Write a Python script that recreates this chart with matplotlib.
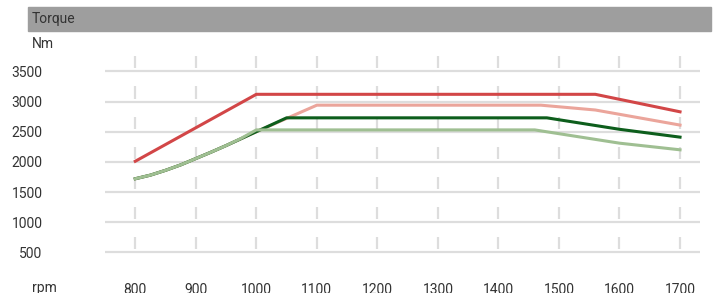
import matplotlib.pyplot as plt
from matplotlib.patches import Rectangle

# torque curves (rpm -> Nm)
rpm_red = [800, 1000, 1560, 1700]
nm_red = [2010, 3120, 3120, 2830]

rpm_lred = [800, 825, 850, 875, 900, 925, 950, 975, 1000, 1100, 1470, 1560, 1700]
nm_lred = [1720, 1780, 1860, 1950, 2055, 2160, 2270, 2385, 2500, 2940, 2940, 2860, 2610]

rpm_dgreen = [800, 825, 850, 875, 900, 925, 950, 975, 1000, 1050, 1480, 1600, 1700]
nm_dgreen = [1720, 1780, 1860, 1950, 2055, 2160, 2270, 2385, 2500, 2730, 2730, 2540, 2410]

rpm_lgreen = [800, 825, 850, 875, 900, 925, 950, 975, 1000, 1460, 1600, 1700]
nm_lgreen = [1720, 1780, 1860, 1950, 2055, 2160, 2270, 2390, 2530, 2530, 2310, 2200]

xticks = [800, 900, 1000, 1100, 1200, 1300, 1400, 1500, 1600, 1700]
yticks = [500, 1000, 1500, 2000, 2500, 3000, 3500]

plt.rcParams['font.family'] = ['Roboto', 'DejaVu Sans']
txt = '#333333'
grid = '#dddddd'
fs = 10

W, H = 716, 293
fig = plt.figure(figsize=(W / 100, H / 100), dpi=100)

# header bar
fig.patches.append(Rectangle((28 / W, 1 - 31 / H), (711 - 28) / W, 24 / H,
                             transform=fig.transFigure, color='#9e9e9e', zorder=0))
fig.text(32 / W, 1 - 19 / H, 'Torque', fontsize=fs, color=txt, va='center', ha='left')
fig.text(32 / W, 1 - 44 / H, 'Nm', fontsize=fs, color=txt, va='center', ha='left')
fig.text(32 / W, 1 - 288 / H, 'rpm', fontsize=fs, color=txt, va='center', ha='left')

ax = fig.add_axes([105 / W, (H - 282.5) / H, (700 - 105) / W, (282.5 - 53.3) / H])
ax.set_xlim(750, 1733)
ax.set_ylim(0, 3800)
for s in ax.spines.values():
    s.set_visible(False)

# grid: horizontal lines plus short vertical marks above each
for g in yticks:
    ax.axhline(g, color=grid, lw=1.6, zorder=1)
    ax.vlines(xticks, g + 50, g + 250, color=grid, lw=1.6, zorder=1)

ax.plot(rpm_lred, nm_lred, color='#eba59b', lw=2.2, zorder=3)
ax.plot(rpm_dgreen, nm_dgreen, color='#0d5e1c', lw=2.2, zorder=4)
ax.plot(rpm_lgreen, nm_lgreen, color='#9fbf92', lw=2.2, zorder=5)
ax.plot(rpm_red, nm_red, color='#d24647', lw=2.2, zorder=6)

ax.set_xticks(xticks)
ax.set_xticklabels([str(v) for v in xticks])
ax.set_yticks(yticks)
ax.set_yticklabels([str(v) for v in yticks])
ax.tick_params(axis='both', length=0, labelsize=fs, labelcolor=txt)
ax.tick_params(axis='x', pad=0)
ax.tick_params(axis='y', pad=45)

fig.savefig('out.png', dpi=100)
